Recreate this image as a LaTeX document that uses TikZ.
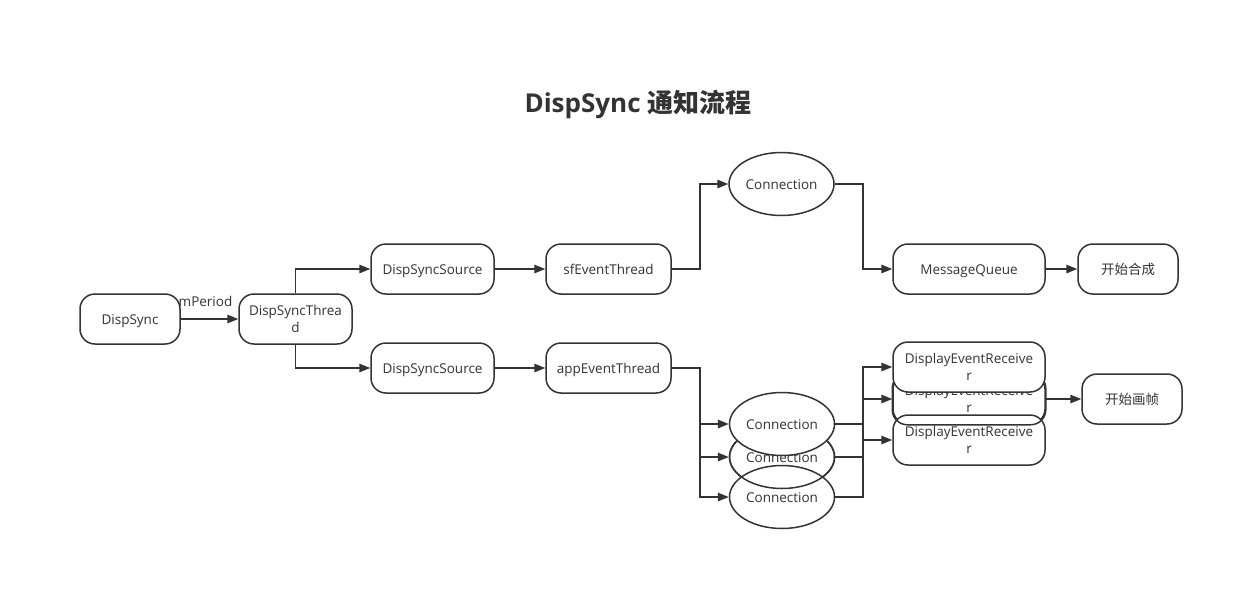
\documentclass[tikz,border=0pt]{standalone}
\usepackage{fontspec}
\setmainfont{Open Sans}
\newfontfamily\cjk{Noto Sans CJK SC}
\usetikzlibrary{arrows.meta,shapes.geometric}
\definecolor{ink}{HTML}{333333}
\begin{document}
\begin{tikzpicture}[x={(1pt,0)},y={(0,-1pt)},
  every node/.style={text=ink,font=\fontsize{13.5}{16.5}\selectfont},
  boxline/.style={draw=ink,line width=1.5pt},
  rbox/.style={boxline,fill=white,rounded corners=15pt,inner sep=0pt,align=center,minimum height=50pt},
  one/.style={text height=10pt,text depth=0pt},
  ell/.style={boxline,fill=white,ellipse,inner sep=0pt,minimum width=105pt,minimum height=63pt,one},
  arr/.style={draw=ink,line width=1.5pt,-{Triangle[length=11pt,width=8.5pt]}}]
\useasboundingbox (0,0) rectangle (1244,590);
\fill[white] (0,0) rectangle (1244,590);

\node[font=\fontsize{26}{30}\selectfont\bfseries] (title) at (638,104) {DispSync {\cjk\bfseries 通知流程}};

\node[rbox,one,minimum width=100pt] (ds) at (130,319) {DispSync};
\node[rbox,minimum width=113pt] (dst) at (295.5,319) {DispSyncThrea\\d};
\node[rbox,one,minimum width=123pt] (src1) at (432.5,269) {DispSyncSource};
\node[rbox,one,minimum width=123pt] (src2) at (432.5,368) {DispSyncSource};
\node[rbox,one,minimum width=125pt] (sf) at (608.5,269) {sfEventThread};
\node[rbox,one,minimum width=125pt] (app) at (608.5,368) {appEventThread};
\node[ell] (conn0) at (781.5,184) {Connection};
\node[rbox,one,minimum width=152pt] (mq) at (969,269) {MessageQueue};
\node[rbox,one,minimum width=100pt] (hc) at (1128,269) {{\cjk 开始合成}};

% stacked connections
\node[ell] (conn2) at (782,457) {Connection};
\node[ell] (conn3) at (782,497) {Connection};
\draw[boxline] (conn2.center) ellipse [x radius=52.5, y radius=31.5];
\node[ell] (conn1) at (782,424) {Connection};

% stacked receivers
\node[rbox,minimum width=152pt] (der2) at (969,399) {DisplayEventReceive\\r};
\node[rbox,minimum width=152pt] (der3) at (969,440) {DisplayEventReceive\\r};
\draw[boxline,rounded corners=15pt] (der2.north west) rectangle (der2.south east);
\node[rbox,minimum width=152pt] (der1) at (969,367) {DisplayEventReceive\\r};

\node[rbox,one,minimum width=100pt] (hz) at (1132,399) {{\cjk 开始画帧}};

% connectors
\draw[arr] (ds.east) -- (dst.west);
\node (mp) at (205.5,301) {mPeriod};
\draw[arr] (dst.north) |- (src1.west);
\draw[arr] (dst.south) |- (src2.west);
\draw[arr] (src1.east) -- (sf.west);
\draw[arr] (src2.east) -- (app.west);
\coordinate (b1) at (700,269);
\draw[arr] (sf.east) -- (b1) |- (conn0.west);
\coordinate (b2) at (863,184);
\draw[arr] (conn0.east) -- (b2) |- (mq.west);
\draw[arr] (mq.east) -- (hc.west);

\coordinate (b3) at (700,368);
\draw[arr] (app.east) -- (b3) |- (conn1.west);
\draw[arr] (b3) |- (conn2.west);
\draw[arr] (b3) |- (conn3.west);

\coordinate (c1) at (863,424);
\coordinate (c2) at (863,457);
\coordinate (c3) at (863,497);
\draw[arr] (conn1.east) -- (c1) |- (der1.west);
\draw[arr] (conn2.east) -- (c2) |- (der2.west);
\draw[arr] (conn3.east) -- (c3) |- (der3.west);
\draw[arr] (der2.east) -- (hz.west);
\end{tikzpicture}
\end{document}
